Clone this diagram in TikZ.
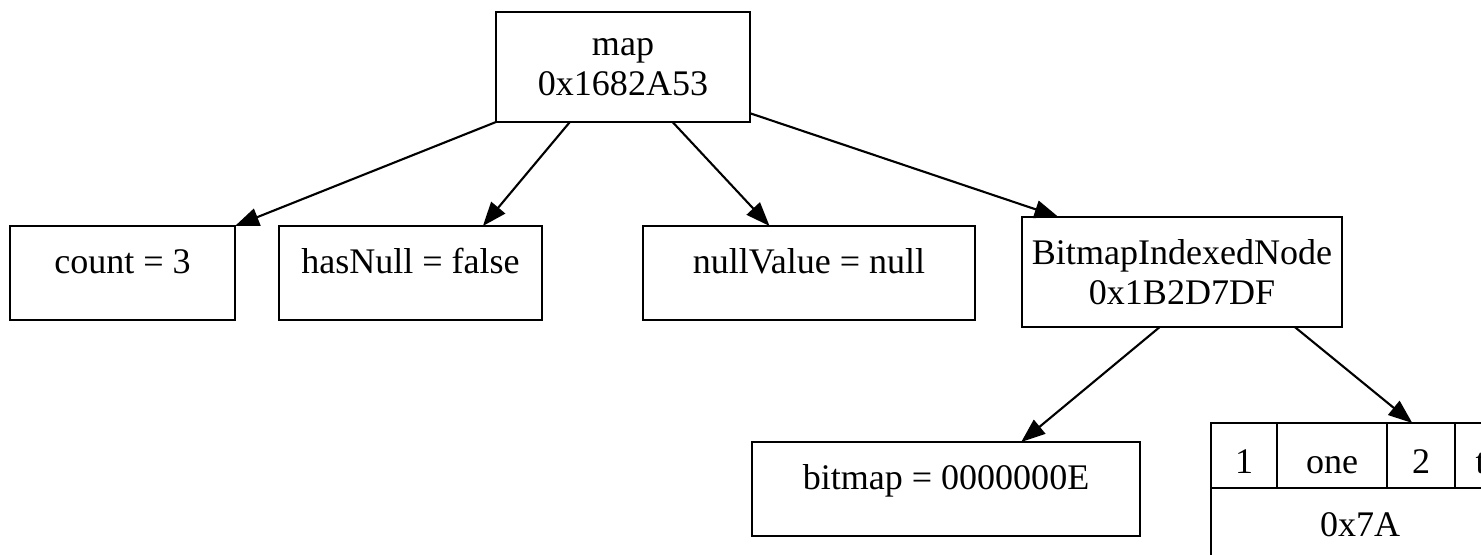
\documentclass[tikz,border=0pt]{standalone}
\usepackage{fontspec}
\setmainfont{Liberation Serif}
\usetikzlibrary{arrows.meta,positioning}

\begin{document}
\begin{tikzpicture}[>={Triangle[length=0.48cm,width=0.36cm]},line width=1.2pt,
    node font=\fontsize{20.5}{22.8}\selectfont,
    field/.style={draw,rectangle,minimum height=1.88cm,inner sep=0pt,outer sep=0pt,text height=1.6ex,text depth=1.6ex},
    obj/.style={draw,rectangle,minimum height=2.2cm,inner sep=0pt,outer sep=0pt,align=center},
    cell/.style={draw,rectangle,minimum height=1.3cm,inner sep=0pt,outer sep=0pt,text height=0.75cm,text depth=0.05cm}]
    \path[use as bounding box,clip] (0,0) rectangle (29.62,-11.08);
    \node[obj,minimum width=5.08cm] (map) at (12.46,-1.34) {map\\0x1682A53};
    \node[field,minimum width=4.5cm] (count) at (2.45,-5.46) {count = 3};
    \node[field,minimum width=5.26cm] (hasnull) at (8.21,-5.46) {hasNull = false};
    \node[field,minimum width=6.64cm] (nullvalue) at (16.18,-5.46) {nullValue = null};
    \node[obj,minimum width=6.4cm] (bin) at (23.64,-5.44) {BitmapIndexedNode\\0x1B2D7DF};
    \node[field,minimum width=7.76cm] (bitmap) at (18.92,-9.78) {bitmap = 0000000E};
    % array record
    \node[cell,minimum width=1.32cm] (c1) at (24.88,-9.11) {1};
    \node[cell,minimum width=2.2cm] (cone) [right=0pt of c1] {one};
    \node[cell,minimum width=1.36cm] (c2) [right=0pt of cone] {2};
    \node[cell,minimum width=1.9cm] (ctwo) [right=0pt of c2] {two};
    \node[field,minimum width=6.78cm,minimum height=1.92cm,text width=2.42cm,align=left,anchor=north west] (arr) at (c1.south west) {0x7A};
    \path[->]
    (map.south west) edge (count.north east)
    (map.226) edge (hasnull.33)
    (map.312) edge (nullvalue.130)
    (map.340) edge (bin.156)
    (bin.248) edge (bitmap.32)
    (bin.334) edge (c2.105);
\end{tikzpicture}
\end{document}
